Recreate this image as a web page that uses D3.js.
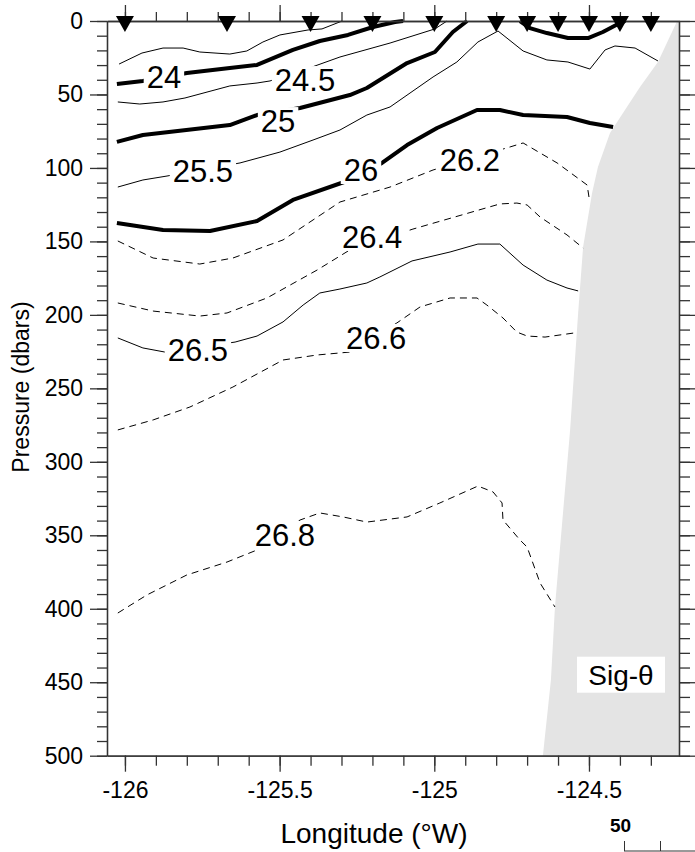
<!DOCTYPE html>
<html>
<head>
<meta charset="utf-8">
<script src="https://cdnjs.cloudflare.com/ajax/libs/d3/7.8.5/d3.min.js"></script>
<style>
body { margin: 0; background: #fff; }
svg { display: block; font-family: "Liberation Sans", Arial, Helvetica, sans-serif; }
</style>
</head>
<body>
<svg class="section"></svg>
<script>
// Stations (longitude of each cast)
var stations = [-126.0, -125.67, -125.4, -125.2, -125.0, -124.8, -124.7, -124.6, -124.5, -124.4, -124.3];

// Tick values
var xTicks = [-126, -125.5, -125, -124.5];
var yTicks = [0, 50, 100, 150, 200, 250, 300, 350, 400, 450, 500];

// Bottom topography edge [lon, pressure]
var topo = [[-124.215, 0], [-124.277, 27.9], [-124.335, 44.9], [-124.390, 62.6], [-124.432, 76.2],
	    [-124.471, 99.3], [-124.490, 117.0], [-124.519, 153.8], [-124.535, 198.7], [-124.561, 278.3],
	    [-124.610, 398.8], [-124.623, 448.5], [-124.649, 500]];

// Sigma-theta contours [lon, pressure]
var sig235 = [[-126.019, 29.3], [-125.945, 21.8], [-125.877, 18.4], [-125.812, 18.4], [-125.758, 21.1],
	      [-125.661, 22.5], [-125.606, 20.4], [-125.554, 14.3], [-125.499, 9.5], [-125.408, 6.1],
	      [-125.363, 5.4], [-125.298, 0]];
var sig24 = [[-126.026, 42.9], [-125.942, 40.8], [-125.800, 35.4], [-125.661, 32.0], [-125.573, 29.9],
	     [-125.457, 19.7], [-125.370, 13.6], [-125.279, 9.5], [-125.198, 4.1], [-125.127, 0.7], [-125.101, 0]];
var sig24b = [[-124.723, 0], [-124.691, 4.8], [-124.636, 8.2], [-124.568, 11.6], [-124.503, 11.6],
	      [-124.455, 7.5], [-124.400, 1.4], [-124.383, 0]];
var sig245 = [[-126.023, 55.1], [-125.952, 56.5], [-125.877, 55.1], [-125.806, 52.4], [-125.661, 44.2],
	      [-125.573, 42.2], [-125.531, 40.8], [-125.395, 31.3], [-125.305, 24.5], [-125.143, 15.0],
	      [-124.998, 5.4], [-124.959, 0]];
var sig25 = [[-126.026, 82.3], [-125.942, 77.6], [-125.661, 70.8], [-125.573, 64.0], [-125.434, 59.2],
	     [-125.273, 50.4], [-125.218, 45.6], [-125.088, 28.6], [-124.998, 21.1], [-124.940, 7.5], [-124.894, 0]];
var sig255 = [[-126.023, 113.0], [-125.942, 108.2], [-125.864, 105.5], [-125.628, 96.6], [-125.499, 89.2],
	      [-125.392, 81.0], [-125.305, 74.2], [-125.218, 64.0], [-125.143, 58.5], [-125.004, 38.1],
	      [-124.927, 27.9], [-124.859, 14.3], [-124.794, 6.8], [-124.713, 20.4], [-124.636, 26.5],
	      [-124.568, 27.9], [-124.497, 32.7], [-124.448, 19.7], [-124.416, 17.0], [-124.351, 18.4],
	      [-124.277, 27.2]];
var sig26 = [[-126.026, 137.5], [-125.877, 142.2], [-125.725, 142.9], [-125.573, 136.1], [-125.457, 121.8],
	     [-125.273, 108.2], [-125.169, 96.6], [-125.088, 84.4], [-124.991, 72.8], [-124.862, 60.6],
	     [-124.788, 60.6], [-124.713, 64.0], [-124.571, 65.3], [-124.497, 69.4], [-124.422, 72.1]];
var sig262 = [[-126.023, 149.7], [-125.909, 161.3], [-125.758, 165.4], [-125.651, 161.3], [-125.489, 149.0],
	      [-125.305, 123.2], [-125.143, 113.0], [-125.004, 101.4], [-124.755, 85.7], [-124.713, 83.0],
	      [-124.603, 96.6], [-124.506, 111.6], [-124.500, 119.8]];
var sig264 = [[-126.023, 191.9], [-125.909, 197.4], [-125.758, 200.8], [-125.670, 198.7], [-125.541, 188.5],
	      [-125.379, 169.5], [-125.273, 155.8], [-125.069, 141.6], [-124.788, 124.5], [-124.733, 123.9],
	      [-124.700, 125.2], [-124.658, 133.4], [-124.571, 145.6], [-124.519, 154.5]];
var sig265 = [[-126.023, 215.7], [-125.942, 222.5], [-125.871, 225.3], [-125.644, 218.5], [-125.573, 214.4],
	      [-125.489, 204.8], [-125.424, 193.3], [-125.370, 185.1], [-125.305, 182.4], [-125.218, 178.3],
	      [-125.176, 174.2], [-125.072, 163.3], [-124.949, 157.2], [-124.859, 151.8], [-124.788, 151.8],
	      [-124.713, 166.1], [-124.636, 176.3], [-124.571, 181.7], [-124.535, 183.7]];
var sig266 = [[-126.023, 278.3], [-125.909, 271.5], [-125.790, 262.7], [-125.651, 249.1], [-125.489, 230.7],
	      [-125.379, 227.3], [-125.273, 225.3], [-125.121, 205.5], [-125.046, 194.6], [-124.949, 188.5],
	      [-124.862, 188.5], [-124.830, 193.3], [-124.778, 202.1], [-124.733, 211.7], [-124.700, 214.4],
	      [-124.642, 215.1], [-124.551, 212.4]];
var sig268 = [[-126.023, 402.9], [-125.929, 390.6], [-125.800, 377.0], [-125.670, 368.2], [-125.573, 360.0],
	      [-125.434, 339.6], [-125.370, 334.8], [-125.295, 337.5], [-125.218, 341.0], [-125.088, 337.5],
	      [-124.982, 328.0], [-124.859, 316.5], [-124.810, 320.5], [-124.781, 328.0], [-124.778, 339.6],
	      [-124.723, 353.2], [-124.700, 358.0], [-124.658, 382.5], [-124.610, 398.8]];

// Contour labels: text, lon, pressure
var labelText = ["24", "24.5", "25", "25.5", "26", "26.2", "26.4", "26.5", "26.6", "26.8"];
var labelLon = [-125.874, -125.418, -125.505, -125.748, -125.237, -124.885, -125.201, -125.764, -125.188, -125.483];
var labelP = [38.1, 40.2, 68.1, 102.1, 101.4, 94.6, 147.0, 223.9, 215.7, 349.8];

// Total dimensions
var w = 695,
    h = 852;

var svg = d3.select(".section")
    .attr("width", w)
    .attr("height", h);

var margin = { top: 21, right: 16, bottom: 96, left: 107 },
    width = w - margin.left - margin.right,
    height = 734.7,
    g = svg.append("g").attr("transform", "translate(" + margin.left + "," + margin.top + ")");

var xScale = d3.scaleLinear()
    .domain([-126.058, -124.209])
    .range([0, width]);

var yScale = d3.scaleLinear()
    .domain([0, 500])
    .range([0, height]);

// Topography
var topoPoly = topo.concat([[xScale.domain()[1], 500], [xScale.domain()[1], 0]]);
g.append("path")
    .datum(topoPoly)
    .attr("fill", "#e4e4e4")
    .attr("stroke", "none")
    .attr("d", d3.line()
	  .x(function(d) { return xScale(d[0]); })
	  .y(function(d) { return yScale(d[1]); }));

// Contours
var contours = [
    { pts: sig235, kind: "thin" },
    { pts: sig24, kind: "thick" },
    { pts: sig24b, kind: "thick" },
    { pts: sig245, kind: "thin" },
    { pts: sig25, kind: "thick" },
    { pts: sig255, kind: "thin" },
    { pts: sig26, kind: "thick" },
    { pts: sig262, kind: "dash" },
    { pts: sig264, kind: "dash" },
    { pts: sig265, kind: "thin" },
    { pts: sig266, kind: "dash" },
    { pts: sig268, kind: "dash" }
];

var line = d3.line()
    .x(function(d) { return xScale(d[0]); })
    .y(function(d) { return yScale(d[1]); });

g.selectAll(".contour")
    .data(contours)
    .enter().append("path")
    .attr("class", "contour")
    .attr("fill", "none")
    .attr("stroke", "#000")
    .attr("stroke-linejoin", "round")
    .attr("stroke-width", function(d) { return d.kind == "thick" ? 4 : 1; })
    .attr("stroke-dasharray", function(d) { return d.kind == "dash" ? "7,5" : null; })
    .attr("d", function(d) { return line(d.pts); });

// Contour labels (white box behind the text)
labelText.forEach(function(t, i) {
    var lg = g.append("g")
	.attr("transform", "translate(" + xScale(labelLon[i]) + "," + yScale(labelP[i]) + ")");
    var box = lg.append("rect").attr("fill", "#fff");
    var txt = lg.append("text")
	.attr("text-anchor", "middle")
	.attr("dy", "0.36em")
	.attr("font-size", "31px")
	.text(t);
    var tw = txt.node().getComputedTextLength();
    box.attr("x", -tw / 2 - 3)
	.attr("y", -14)
	.attr("width", tw + 6)
	.attr("height", 28);
});

// Axes
var minor_x = d3.range(-126.0, -124.25, 0.1).map(function(v) { return Math.round(v * 10) / 10; });
var minor_y = d3.range(0, 501, 10);

g.append("g")
    .attr("class", "axis")
    .call(d3.axisLeft(yScale).tickValues(minor_y).tickSize(10).tickSizeOuter(0).tickFormat(""));
g.append("g")
    .attr("class", "axis")
    .call(d3.axisLeft(yScale).tickValues(yTicks).tickSize(17).tickSizeOuter(0).tickPadding(7));

g.append("g")
    .attr("class", "axis")
    .attr("transform", "translate(" + width + ",0)")
    .call(d3.axisRight(yScale).tickValues(minor_y).tickSize(11).tickSizeOuter(0).tickFormat(""));
g.append("g")
    .attr("class", "axis")
    .attr("transform", "translate(" + width + ",0)")
    .call(d3.axisRight(yScale).tickValues(yTicks).tickSize(16).tickSizeOuter(0).tickFormat(""));

g.append("g")
    .attr("class", "axis")
    .attr("transform", "translate(0," + height + ")")
    .call(d3.axisBottom(xScale).tickValues(minor_x).tickSize(10).tickSizeOuter(0).tickFormat(""));
g.append("g")
    .attr("class", "axis")
    .attr("transform", "translate(0," + height + ")")
    .call(d3.axisBottom(xScale).tickValues(xTicks).tickSize(16).tickSizeOuter(0).tickPadding(10)
	  .tickFormat(function(d) { return d; }));

g.append("g")
    .attr("class", "axis")
    .call(d3.axisTop(xScale).tickValues(minor_x).tickSize(9).tickSizeOuter(0).tickFormat(""));
g.append("g")
    .attr("class", "axis")
    .call(d3.axisTop(xScale).tickValues(xTicks).tickSize(16).tickSizeOuter(0).tickFormat(""));

svg.selectAll(".axis path, .axis line")
    .attr("stroke", "#333")
    .attr("stroke-width", 1.3);
svg.selectAll(".axis text")
    .attr("fill", "#000")
    .attr("font-size", "23px")
    .attr("font-family", "Liberation Sans, Arial, sans-serif");

// Station markers
g.selectAll(".station")
    .data(stations)
    .enter().append("path")
    .attr("class", "station")
    .attr("transform", function(d) { return "translate(" + xScale(d) + ",-5)"; })
    .attr("d", "M-9,0L9,0L0,16Z")
    .attr("fill", "#000");

// Sig-theta tag
var tag = g.append("g")
    .attr("transform", "translate(" + (width - 58) + "," + (height - 81) + ")");
tag.append("rect")
    .attr("x", -44).attr("y", -18)
    .attr("width", 88).attr("height", 36)
    .attr("fill", "#fff");
tag.append("text")
    .attr("text-anchor", "middle")
    .attr("dy", "0.36em")
    .attr("font-size", "28px")
    .text("Sig-\u03b8");

// Axis titles
svg.append("text")
    .attr("x", 374)
    .attr("y", 843)
    .attr("text-anchor", "middle")
    .attr("font-size", "28px")
    .text("Longitude (\u00b0W)");

svg.append("text")
    .attr("transform", "translate(29,387) rotate(-90)")
    .attr("text-anchor", "middle")
    .attr("font-size", "23px")
    .text("Pressure (dbars)");

// Distance scale (cut off at the bottom)
var kmScale = d3.scaleLinear()
    .domain([50, 60])
    .range([624, 660]);
svg.append("g")
    .attr("class", "km")
    .attr("transform", "translate(0,851)")
    .call(d3.axisTop(kmScale).tickValues([50, 60]).tickSize(10).tickSizeOuter(0).tickPadding(9)
	  .tickFormat(function(d) { return d == 50 ? d : ""; }));
svg.select(".km path").attr("d", "M624,0H700").attr("stroke", "#333");
svg.selectAll(".km line").attr("stroke", "#333");
svg.selectAll(".km text")
    .attr("font-size", "19px")
    .attr("font-weight", "bold")
    .attr("fill", "#000")
    .attr("font-family", "Liberation Sans, Arial, sans-serif")
    .attr("dx", "-4");
</script>
</body>
</html>
